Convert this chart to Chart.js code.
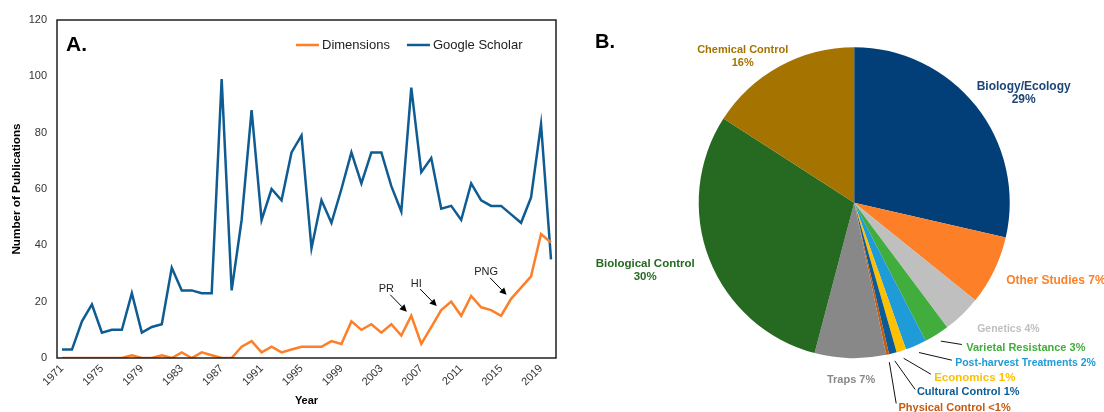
<!DOCTYPE html>
<html><head><meta charset="utf-8">
<script src="https://cdn.jsdelivr.net/npm/chart.js@4.4.1/dist/chart.umd.min.js"></script>
<style>
html,body{margin:0;padding:0;background:#fff;width:1104px;height:412px;overflow:hidden;}
#c1{position:absolute;left:0;top:0;width:560px;height:412px;}
#c2{position:absolute;left:560px;top:0;width:544px;height:412px;}
</style></head><body>
<canvas id="c1" width="560" height="412"></canvas>
<canvas id="c2" width="544" height="412"></canvas>
<script>
// ---------- data ----------
const years = ['1971','1972','1973','1974','1975','1976','1977','1978','1979','1980',
  '1981','1982','1983','1984','1985','1986','1987','1988','1989','1990',
  '1991','1992','1993','1994','1995','1996','1997','1998','1999','2000',
  '2001','2002','2003','2004','2005','2006','2007','2008','2009','2010',
  '2011','2012','2013','2014','2015','2016','2017','2018','2019','2020'];
const dimensions = [0,0,0,0,0,0,0,1,0,0, 1,0,2,0,2,1,0,0,4,6, 2,4,2,3,4,4,4,6,5,13,
  10,12,9,12,8,15,5,11,17,20, 15,22,18,17,15,21,25,29,44,41];
const googleScholar = [3,3,13,19,9,10,10,23,9,11, 12,32,24,24,23,23,99,24,49,88,
  49,60,56,73,79,39,56,48,60,73, 62,73,73,61,52,96,66,71,53,54, 49,62,56,54,54,51,48,57,83,35];
const seriesNames = ['Dimensions','Google Scholar'];
const yTickValues = [0,20,40,60,80,100,120];
const noteLabels = ['PR','HI','PNG'];
const noteYears = ['2006','2009','2016'];

const topics = ['Biology/Ecology','Other Studies','Genetics','Varietal Resistance','Post-harvest Treatments',
  'Economics','Cultural Control','Physical Control','Traps','Biological Control','Chemical Control'];
const topicShares = [28.6,7.2,4.0,2.6,2.2,1.0,0.8,0.3,7.4,30.0,15.9];
const topicShareText = ['29%','7%','4%','3%','2%','1%','1%','<1%','7%','30%','16%'];

// ---------- styles ----------
const FONT = '"Liberation Sans", Arial, Helvetica, sans-serif';
const lineColors = ['#fd7f28','#0f5c93'];
const topicColors = ['#023f78','#fd7f28','#bfbfbf','#41ad3c','#1f9bd7','#ffc000','#0b5b97','#c55a11','#888888','#266a21','#a57300'];
const labelColors = ['#1d4577','#fd7f28','#bfbfbf','#41ad3c','#1f9bd7','#ffc000','#0b5b97','#c55a11','#888888','#266a21','#a57300'];
// label layout relative to pie centre (px): two-line = name over percent
const labelLayout = [
  {dx:169.5, dy:-116.5, align:'center', two:true, size:12},
  {dx:152, dy:77.5, align:'left', size:12},
  {dx:123, dy:126, align:'left', size:10.5},
  {dx:112, dy:145, align:'left', size:11, leader:[107.7,141.8]},
  {dx:101, dy:160.5, align:'left', size:10.5, leader:[97.7,157.5]},
  {dx:80, dy:175, align:'left', size:11.5, leader:[76.7,171.5]},
  {dx:62.7, dy:189.5, align:'left', size:11, leader:[61,186.8]},
  {dx:44.3, dy:205.2, align:'left', size:11, leader:[42,200.8]},
  {dx:21, dy:177.5, align:'right', size:11},
  {dx:-209, dy:61.5, align:'center', two:true, size:11.5},
  {dx:-111.5, dy:-152.5, align:'center', two:true, size:11}
];

// ---------- line chart ----------
const framePlugin = {
  id:'frame',
  afterDraw(chart){
    const {ctx, chartArea:a} = chart;
    ctx.save();
    ctx.strokeStyle = '#111'; ctx.lineWidth = 1.4;
    ctx.strokeRect(a.left, a.top, a.right - a.left, a.bottom - a.top);
    // panel letter
    ctx.fillStyle = '#000'; ctx.font = 'bold 21px ' + FONT;
    ctx.textAlign = 'left'; ctx.textBaseline = 'alphabetic';
    ctx.fillText('A.', a.left + 9, a.top + 31);
    // legend
    ctx.font = '13px ' + FONT; ctx.textBaseline = 'middle';
    let x = a.left + 239; const y = a.top + 25;
    chart.data.datasets.forEach(ds => {
      ctx.strokeStyle = ds.borderColor; ctx.lineWidth = 2.5;
      ctx.beginPath(); ctx.moveTo(x, y); ctx.lineTo(x + 23, y); ctx.stroke();
      x += 26;
      ctx.fillStyle = '#222'; ctx.fillText(ds.label, x, y);
      x += ctx.measureText(ds.label).width + 17;
    });
    // annotations with arrows
    const xs = chart.scales.x, ys = chart.scales.y;
    ctx.font = '11px ' + FONT; ctx.textAlign = 'center'; ctx.textBaseline = 'alphabetic';
    noteLabels.forEach((t, i) => {
      const idx = years.indexOf(noteYears[i]);
      const px = xs.getPixelForValue(idx), py = ys.getPixelForValue(dimensions[idx]);
      const tipX = px - 4.5, tipY = py - 4;
      const tailX = tipX - 16.5, tailY = tipY - 17;
      ctx.strokeStyle = '#000'; ctx.fillStyle = '#000'; ctx.lineWidth = 1;
      const ang = Math.atan2(tipY - tailY, tipX - tailX);
      const hl = 7, hw = 3.5;
      const bx = tipX - hl * Math.cos(ang), by = tipY - hl * Math.sin(ang);
      ctx.beginPath(); ctx.moveTo(tailX, tailY); ctx.lineTo(bx, by); ctx.stroke();
      ctx.beginPath(); ctx.moveTo(tipX, tipY);
      ctx.lineTo(bx + hw * Math.sin(ang), by - hw * Math.cos(ang));
      ctx.lineTo(bx - hw * Math.sin(ang), by + hw * Math.cos(ang));
      ctx.closePath(); ctx.fill();
      ctx.fillStyle = '#222';
      ctx.fillText(t, tailX - 4, tailY - 2.5);
    });
    ctx.restore();
  }
};

new Chart(document.getElementById('c1'), {
  type:'line',
  data:{
    labels: years,
    datasets:[
      {label: seriesNames[0], data: dimensions, borderColor: lineColors[0], backgroundColor: lineColors[0], borderWidth:2.5, pointRadius:0, tension:0},
      {label: seriesNames[1], data: googleScholar, borderColor: lineColors[1], backgroundColor: lineColors[1], borderWidth:2.5, pointRadius:0, tension:0}
    ]
  },
  options:{
    responsive:false, animation:false, devicePixelRatio:1,
    layout:{padding:{top:20, right:4, left:0, bottom:0}},
    plugins:{legend:{display:false}, tooltip:{enabled:false}},
    scales:{
      x:{
        type:'category', offset:true,
        grid:{display:false, drawTicks:false}, border:{display:false},
        ticks:{autoSkip:false, maxRotation:45, minRotation:45, padding:4, color:'#333',
          font:{family:FONT, size:11},
          callback:function(v, i){ return i % 4 === 0 ? years[i] : ''; }},
        title:{display:true, text:'Year', color:'#000', font:{family:FONT, size:11, weight:'bold'}, padding:{top:0, bottom:4}},
        afterFit(s){ s.height = 54; s.paddingLeft = 0; s.paddingRight = 0; }
      },
      y:{
        min:0, max:120,
        grid:{display:false, drawTicks:false}, border:{display:false},
        afterBuildTicks(s){ s.ticks = yTickValues.map(v => ({value:v})); },
        ticks:{padding:10, color:'#333', font:{family:FONT, size:11}},
        title:{display:true, text:'Number of Publications', color:'#000', font:{family:FONT, size:11.7, weight:'bold'}, padding:{top:10, bottom:0}},
        afterFit(s){ s.width = 57; s.paddingTop = 0; s.paddingBottom = 0; }
      }
    }
  },
  plugins:[framePlugin]
});

// ---------- pie chart ----------
const pieLabelPlugin = {
  id:'pieLabels',
  afterDraw(chart){
    const ctx = chart.ctx;
    const meta = chart.getDatasetMeta(0);
    const arc0 = meta.data[0];
    ctx.save();
    const cx = arc0.x, cy = arc0.y, r = arc0.outerRadius;
    ctx.fillStyle = '#000'; ctx.font = 'bold 20px ' + FONT;
    ctx.textAlign = 'left'; ctx.textBaseline = 'alphabetic';
    ctx.fillText('B.', 35, 48);
    ctx.textBaseline = 'middle';
    meta.data.forEach((arc, i) => {
      const L = labelLayout[i];
      const x = cx + L.dx, y = cy + L.dy;
      if (L.leader) {
        const a = (arc.startAngle + arc.endAngle) / 2;
        const k = 1.05;
        ctx.strokeStyle = '#111'; ctx.lineWidth = 1;
        ctx.beginPath();
        ctx.moveTo(cx + r * Math.cos(a) * k, cy + r * Math.sin(a) * k);
        ctx.lineTo(cx + L.leader[0], cy + L.leader[1]);
        ctx.stroke();
      }
      ctx.font = 'bold ' + L.size + 'px ' + FONT;
      ctx.fillStyle = labelColors[i];
      ctx.textAlign = L.align;
      if (L.two) {
        ctx.fillText(chart.data.labels[i], x, y);
        ctx.fillText(topicShareText[i], x, y + 13);
      } else {
        ctx.fillText(chart.data.labels[i] + ' ' + topicShareText[i], x, y);
      }
    });
    ctx.restore();
  }
};

new Chart(document.getElementById('c2'), {
  type:'pie',
  data:{
    labels: topics,
    datasets:[{data: topicShares, backgroundColor: topicColors, borderWidth:0, hoverOffset:0}]
  },
  options:{
    responsive:false, animation:false, devicePixelRatio:1,
    radius:155.5,
    layout:{padding:{top:47.2, bottom:53.8, left:138.7, right:94.3}},
    plugins:{legend:{display:false}, tooltip:{enabled:false}}
  },
  plugins:[pieLabelPlugin]
});
</script>
</body></html>
